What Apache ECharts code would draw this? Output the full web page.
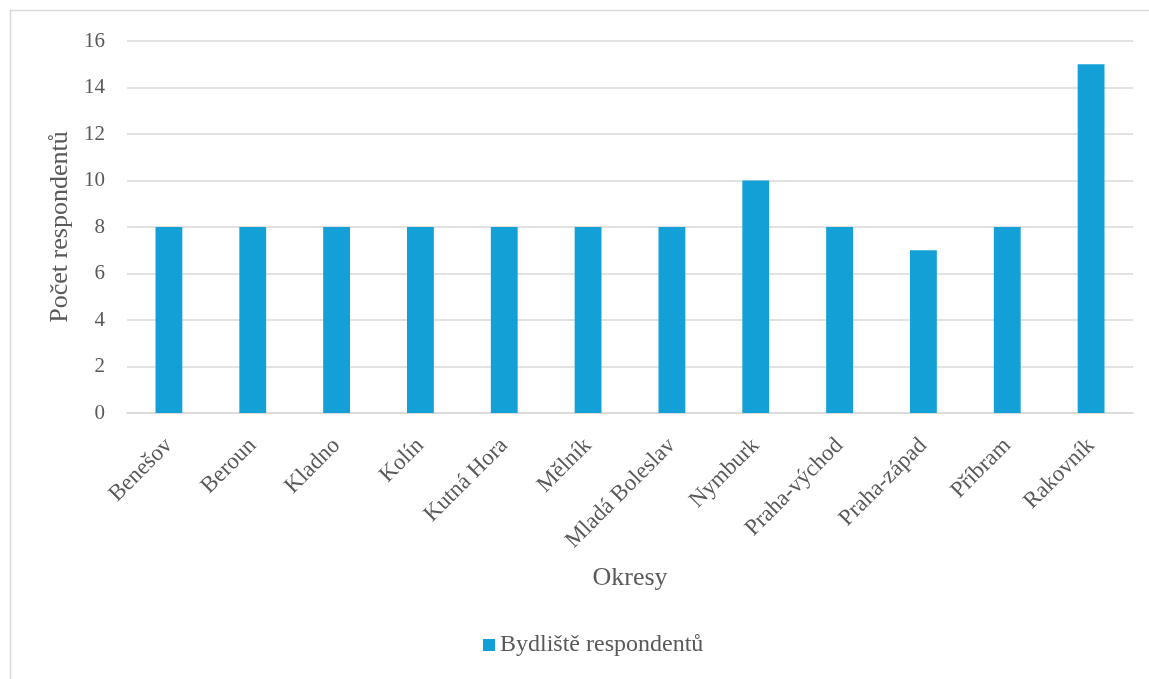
<!DOCTYPE html>
<html><head><meta charset="utf-8">
<script src="https://cdn.jsdelivr.net/npm/echarts@6/dist/echarts.min.js"></script>
<style>html,body{margin:0;padding:0;background:#fff}#c{width:1149px;height:679px}</style>
</head><body><div id="c"></div>
<script>
const categories = ["Benešov","Beroun","Kladno","Kolín","Kutná Hora","Mělník","Mladá Boleslav","Nymburk","Praha-východ","Praha-západ","Příbram","Rakovník"];
const values = [8,8,8,8,8,8,8,10,8,7,8,15];
const seriesName = "Bydliště respondentů";
const xName = "Okresy";
const yName = "Počet respondentů";
const font = "'Liberation Serif','Times New Roman',serif";
const chart = echarts.init(document.getElementById('c'));
chart.setOption({
  animation:false,
  graphic:[{type:'rect',shape:{x:10.5,y:10.5,width:1160,height:700},style:{fill:'none',stroke:'#d9d9d9',lineWidth:1.5},silent:true}],
  grid:{left:127,right:16,top:41,bottom:266},
  legend:{bottom:17,left:478,itemWidth:12,itemHeight:12,itemGap:5,icon:'rect',textStyle:{fontFamily:font,fontSize:24,color:'#595959'},data:[seriesName]},
  xAxis:{type:'category',data:categories,name:xName,nameLocation:'middle',nameGap:152,
    nameTextStyle:{fontFamily:font,fontSize:26,color:'#595959'},
    axisLine:{lineStyle:{color:'#d9d9d9',width:1.5}},axisTick:{show:false},
    axisLabel:{rotate:45,interval:0,margin:29,fontFamily:font,fontSize:23,color:'#595959'}},
  yAxis:{type:'value',min:0,max:16,interval:2,name:yName,nameLocation:'middle',nameGap:52,
    nameTextStyle:{fontFamily:font,fontSize:26,color:'#595959'},
    axisLine:{show:false},axisTick:{show:false},
    axisLabel:{margin:22,fontFamily:font,fontSize:21,color:'#595959'},
    splitLine:{lineStyle:{color:'#d9d9d9',width:1.5}}},
  series:[{name:seriesName,type:'bar',data:values,barWidth:'32%',itemStyle:{color:'#12a0d7'}}]
});
</script></body></html>
